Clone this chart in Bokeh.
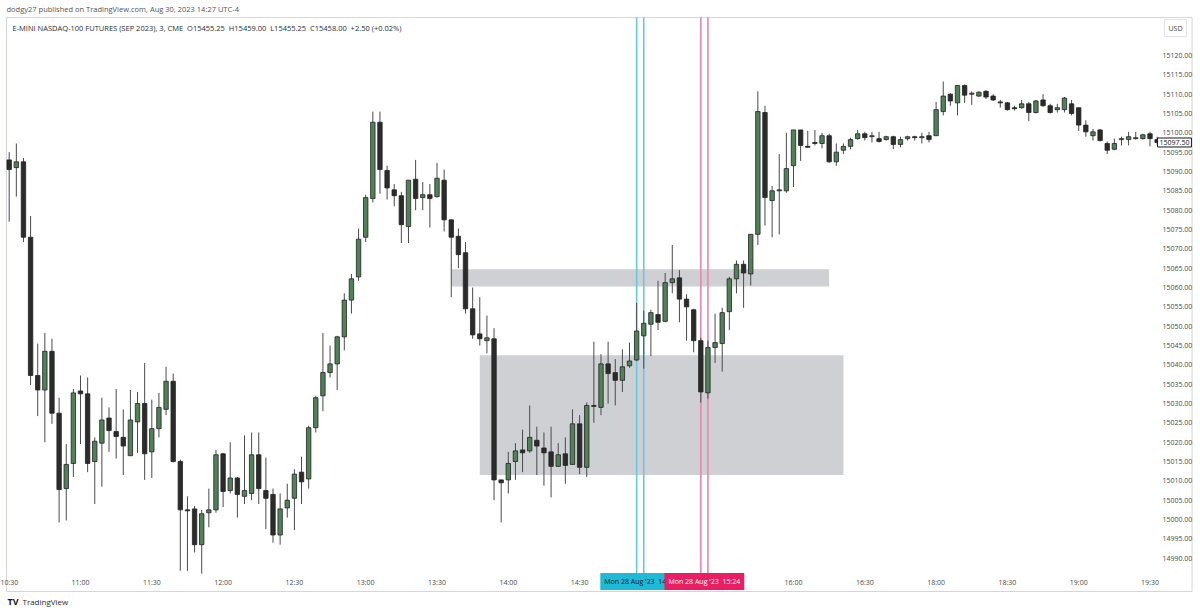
from bokeh.plotting import figure
from bokeh.models import (Range1d, FixedTicker, NumeralTickFormatter, Label, ColumnDataSource)
from bokeh.embed import file_html
from bokeh.resources import INLINE

# ---------------- data (3-minute bars, E-mini Nasdaq-100, Mon 28 Aug '23) ----------------
opens = [15093, 15091, 15092.5, 15073, 15037.25, 15033.5, 15043.5, 15027.5, 15008, 15014.5,
         15033.25, 15032.5, 15015, 15019.75, 15026.25, 15022.75, 15021.25, 15016.5, 15025.25, 15030,
         15017.5, 15023.5, 15028.5, 15035.75, 15015, 15002.5, 15002.75, 14993.5, 15001.75, 15002.5,
         15017, 15007.5, 15010.75, 15006, 15006.75, 15016.75, 15007.5, 15006.5, 14996, 15003,
         15005.5, 15012.25, 15010.5, 15023.75, 15032, 15038, 15040.25, 15047.25, 15056.75, 15062.75,
         15073, 15083, 15102.75, 15090.25, 15085.25, 15083.75, 15075.75, 15088, 15083.25, 15084,
         15083.5, 15087.75, 15077.5, 15073.25, 15069, 15054.5, 15048, 15046.25, 15046.75, 15010.25,
         15010.25, 15015, 15018, 15017.75, 15020.5, 15018.5, 15017.5, 15013.75, 15017, 15014.25,
         15024.75, 15013.5, 15029.5, 15029, 15040.25, 15038, 15036, 15039.75, 15041.25, 15047.5,
         15050.5, 15053, 15051.25, 15061.25, 15062.5, 15057, 15054.25, 15046.25, 15032.75, 15044.5,
         15045.5, 15053.75, 15062.25, 15066, 15063.5, 15073.75, 15105.25, 15082.5, 15085, 15085,
         15091.5, 15100.75, 15096.5, 15097.5, 15097.25, 15099.25, 15092.5, 15095.5, 15096.5, 15098.5,
         15099.75, 15099, 15098.5, 15098.25, 15099, 15097, 15098.5, 15099, 15098.75, 15099.25,
         15099.25, 15105.5, 15110, 15107.75, 15112.25, 15110, 15109.5, 15110.75, 15109.5, 15108,
         15107.75, 15106.5, 15106.5, 15107.5, 15105.25, 15108.5, 15107, 15106, 15106, 15107.5,
         15106.5, 15102, 15099.25, 15100.75, 15097.25, 15095.75, 15098.25, 15098.25, 15098.5, 15098.5,
         15099.75, 15098.25]
highs = [15095, 15097.25, 15093.5, 15078.5, 15045.5, 15048.25, 15046.75, 15031.5, 15019.5, 15033.75,
         15037.25, 15036.75, 15021.25, 15031.5, 15029, 15033.75, 15028.5, 15033.5, 15033, 15040.5,
         15031, 15032.75, 15039.5, 15037.75, 15015.5, 15006, 15003.5, 15002.5, 15008, 15018,
         15017.25, 15020, 15011, 15021.75, 15022.5, 15022.5, 15016, 15008, 15006.75, 15009.25,
         15013, 15016.25, 15024.25, 15032, 15048.25, 15045, 15047.5, 15058.5, 15063.5, 15075.25,
         15084, 15105.5, 15105.5, 15091.5, 15086.75, 15084.75, 15087.75, 15093, 15087.25, 15086.75,
         15092.25, 15090.5, 15077.5, 15075.25, 15071.75, 15060, 15057.5, 15052.75, 15049.5, 15010.25,
         15017.5, 15019.75, 15023.25, 15029.5, 15024, 15022.5, 15024, 15019.75, 15021.25, 15028.5,
         15027, 15030.25, 15046, 15042.75, 15046, 15041.5, 15044, 15045.75, 15056, 15054,
         15054.25, 15061.75, 15063.75, 15071, 15064.5, 15058.25, 15054.5, 15047, 15046.25, 15053.25,
         15054.75, 15062.75, 15067, 15067, 15073.75, 15110.75, 15107, 15086.25, 15094.5, 15100,
         15100.75, 15100.75, 15100.5, 15100.75, 15100, 15099.75, 15097.25, 15097.25, 15098.75, 15100.75,
         15100.25, 15100.25, 15100.25, 15099.25, 15099.25, 15099, 15099.25, 15099.25, 15100, 15100.25,
         15108, 15113.25, 15110.25, 15112.25, 15112.5, 15110.75, 15110.75, 15111, 15110, 15108.5,
         15108, 15107, 15108.5, 15108, 15108.5, 15110, 15107.5, 15107.5, 15109.25, 15108.5,
         15106.5, 15103.25, 15101, 15101, 15097.75, 15098.5, 15099, 15100.25, 15100.25, 15099.75,
         15100.25, 15099]
lows = [15077, 15083.5, 15071.75, 15034.75, 15026.75, 15020, 15024.75, 14999.25, 14999.75, 15011,
        15019.5, 15012.25, 15004, 15008.5, 15017.5, 15015.75, 15011.5, 15016.5, 15017.25, 15010.25,
        15010.75, 15021.25, 15027, 15014.75, 14986.75, 14986.75, 14991.5, 14986, 14998, 15001.75,
        15003.25, 15006.75, 15000.5, 15004, 15005, 15004, 14997.5, 14994, 14993.5, 15000.5,
        14997.25, 15004, 15008, 15022.5, 15028, 15036.75, 15033.5, 15043.75, 15053.25, 15061.75,
        15071.75, 15082, 15084.25, 15082.75, 15081, 15071.5, 15071.5, 15080, 15080, 15075.5,
        15083.25, 15074.5, 15057.5, 15065, 15053.25, 15046.75, 15045, 15043, 15005, 14999.25,
        15006.75, 15010.25, 15012.25, 15017.25, 15011.5, 15008.75, 15005.75, 15013.75, 15009.25, 15014.25,
        15011.75, 15011, 15025, 15027, 15030, 15029.5, 15033, 15039.25, 15041, 15039,
        15042.25, 15049, 15051, 15058.5, 15051, 15046.25, 15043.25, 15030.25, 15031.25, 15040.5,
        15038.25, 15049, 15058.5, 15054.75, 15060.5, 15071, 15076, 15073, 15073.75, 15084.5,
        15086, 15092.75, 15096.25, 15096.75, 15096, 15092.25, 15091.5, 15094.5, 15095.75, 15098.25,
        15098, 15097.5, 15097.5, 15098, 15095.75, 15096.25, 15098, 15098, 15097.25, 15097.5,
        15099.25, 15104.5, 15107, 15104.5, 15107.75, 15107.25, 15109.25, 15108.75, 15108.25, 15106.5,
        15105.75, 15105.75, 15106.25, 15103, 15105, 15106.75, 15105, 15105.25, 15105.25, 15104.5,
        15100.5, 15099, 15098, 15097.75, 15094.5, 15095.5, 15096.75, 15096.75, 15098.25, 15098.25,
        15096.5, 15097]
closes = [15090.5, 15092.5, 15073, 15037.25, 15033.5, 15043.5, 15027.5, 15007.75, 15014.25, 15032.75,
          15032.5, 15014.5, 15020.25, 15025.75, 15023, 15021.5, 15019, 15025.75, 15030, 15017,
          15023.5, 15029, 15035.75, 15015, 15002.5, 15002.25, 14993.5, 15001.5, 15002.5, 15016.75,
          15007.25, 15010.75, 15006.5, 15007.5, 15016.75, 15008, 15005.5, 14996, 15002.75, 15005,
          15011.75, 15009.75, 15023.75, 15031.5, 15038, 15040.25, 15047.25, 15056.75, 15062.25, 15072.5,
          15083.25, 15102.75, 15090.5, 15085.75, 15083.75, 15076.25, 15087.75, 15083, 15084, 15083,
          15088.25, 15077.5, 15073, 15068.5, 15054.5, 15047.75, 15046.75, 15047, 15010.25, 15009.5,
          15014.5, 15017.75, 15017.25, 15021.25, 15019, 15017.25, 15013.75, 15016.75, 15014, 15024.75,
          15013.5, 15029.5, 15029.25, 15040.25, 15037.75, 15036, 15039.5, 15041, 15048.75, 15050.75,
          15053.5, 15051, 15061.25, 15062.25, 15057, 15055, 15046.25, 15033, 15044.5, 15045.75,
          15053.5, 15062.25, 15066, 15063.75, 15073.75, 15105.5, 15083.25, 15085, 15085.25, 15090.75,
          15100.75, 15096.75, 15096.25, 15097.25, 15099.25, 15092.5, 15095, 15096.5, 15098.25, 15099.75,
          15098.75, 15099.25, 15097.75, 15099, 15097, 15098.25, 15099, 15098.75, 15099, 15098.25,
          15106, 15109.5, 15108.25, 15112.25, 15109.75, 15110.25, 15110.5, 15109.25, 15108.5, 15107.75,
          15106, 15106.25, 15107.5, 15105.25, 15108.25, 15107, 15105.25, 15106.5, 15109, 15105,
          15102, 15100.25, 15100.25, 15098, 15095.5, 15097.25, 15098.5, 15099, 15098.75, 15099.5,
          15098.5, 15097.5]

session_starts = ["10:30", "18:00"]     # CME pause 17:00-18:00
session_bar_counts = [130, 32]
bar_minutes = 3

tick_labels = ["10:30", "11:00", "11:30", "12:00", "12:30", "13:00", "13:30", "14:00", "14:30",
               "15:00", "15:30", "16:00", "16:30", "18:00", "18:30", "19:00", "19:30"]
price_ticks = [14990, 14995, 15000, 15005, 15010, 15015, 15020, 15025, 15030, 15035, 15040,
               15045, 15050, 15055, 15060, 15065, 15070, 15075, 15080, 15085, 15090, 15095,
               15100, 15105, 15110, 15115, 15120]

# rectangles drawn on the chart: (start time, end time, top price, bottom price)
zone_starts = ["13:36", "13:48"]
zone_ends = ["16:15", "16:21"]
zone_tops = [15064.75, 15042.5]
zone_bottoms = [15060.25, 15011.5]

blue_line_times = ["14:54", "14:57"]
pink_line_times = ["15:21", "15:24"]
date_text = "Mon 28 Aug '23"

last_price = 15097.5
header_text = "dodgy27 published on TradingView.com, Aug 30, 2023 14:27 UTC-4"
NB2 = "\u00a0\u00a0"
symbol_text = ("E-MINI NASDAQ-100 FUTURES (SEP 2023), 3, CME" + NB2 + "O15455.25" + NB2 +
               "H15459.00" + NB2 + "L15455.25" + NB2 + "C15458.00" + NB2 + "+2.50 (+0.02%)")

# ---------------- derived ----------------
def hm(s):
    h, m = s.split(":")
    return int(h) * 60 + int(m)

def fmt(t):
    return f"{t // 60}:{t % 60:02d}"

times = []
for s, n in zip(session_starts, session_bar_counts):
    t0 = hm(s)
    times += [fmt(t0 + bar_minutes * k) for k in range(n)]
pos = {t: i for i, t in enumerate(times)}
idx = list(range(len(opens)))

up = [c >= o for o, c in zip(opens, closes)]
src = ColumnDataSource(dict(x=idx, hi=highs, lo=lows,
                            top=[max(o, c) for o, c in zip(opens, closes)],
                            bot=[min(o, c) for o, c in zip(opens, closes)],
                            fill=["#4f8257" if u else "#2b2b2b" for u in up]))

# ---------------- layout constants ----------------
W, H = 1200, 612
FONT = "Open Sans"
TXT = "#4a4a4a"
PANE_TOP, PANE_BOTTOM = 15129.8, 14985.3      # price at the top / bottom of the chart pane
X0, X1 = -1.22, 166.1                          # visible bar-index span
Y0, Y1 = 14975.96, 15134.22                    # visible price span

p = figure(width=W, height=H, output_backend="svg", toolbar_location=None,
           y_axis_location="right",
           x_range=Range1d(X0, X1), y_range=Range1d(Y0, Y1),
           min_border_left=0, min_border_right=7, min_border_top=0, min_border_bottom=0)
p.outline_line_color = None
p.grid.visible = False
p.background_fill_color = "white"
p.border_fill_color = "white"

# widget border around chart pane + scales
p.quad(left=[-0.38], right=[165.9], top=[PANE_TOP], bottom=[14981.4],
       fill_color=None, line_color="#d2d5dd", line_width=1)

# zones
p.quad(left=[pos[s] for s in zone_starts], right=[pos[e] for e in zone_ends],
       top=zone_tops, bottom=zone_bottoms, fill_color="#cfd0d4", line_color=None)

# vertical marker lines
p.segment(x0=[pos[t] for t in blue_line_times], x1=[pos[t] for t in blue_line_times],
          y0=PANE_BOTTOM, y1=PANE_TOP, line_color="#66c8e2", line_width=1.6)
p.segment(x0=[pos[t] for t in pink_line_times], x1=[pos[t] for t in pink_line_times],
          y0=PANE_BOTTOM, y1=PANE_TOP, line_color="#ea86a9", line_width=1.6)

# candles
p.segment(x0="x", y0="lo", x1="x", y1="hi", source=src, line_color="#4a4a4a", line_width=1)
p.vbar(x="x", width=0.62, top="top", bottom="bot", source=src,
       fill_color="fill", line_color="#232323", line_width=0.8)

# axes (labels pulled inside the widget area)
xa = p.xaxis[0]
xa.ticker = FixedTicker(ticks=[pos[t] for t in tick_labels])
xa.major_label_overrides = {pos[t]: t for t in tick_labels}
ya = p.yaxis[0]
ya.ticker = FixedTicker(ticks=price_ticks)
ya.formatter = NumeralTickFormatter(format="0.00")
for ax in (xa, ya):
    ax.axis_line_color = None
    ax.major_tick_line_color = None
    ax.minor_tick_line_color = None
    ax.major_tick_out = 0
    ax.major_tick_in = 0
    ax.minor_tick_out = 0
    ax.minor_tick_in = 0
    ax.major_label_text_font = FONT
    ax.major_label_text_font_size = "7px"
    ax.major_label_text_color = TXT
xa.major_label_standoff = -35
ya.major_label_standoff = -31

# texts
p.add_layout(Label(x=6, y=H - 8, x_units="screen", y_units="screen", text=header_text,
                   text_font=FONT, text_font_size="7.5px", text_color="#555555",
                   text_baseline="middle"))
p.add_layout(Label(x=12, y=H - 27, x_units="screen", y_units="screen", text=symbol_text,
                   text_font=FONT, text_font_size="7.5px", text_color="#2a2e39",
                   text_baseline="middle"))
p.add_layout(Label(x=1175, y=H - 27.5, x_units="screen", y_units="screen", text="USD",
                   text_font=FONT, text_font_size="7px", text_color=TXT,
                   text_align="center", text_baseline="middle",
                   border_line_color="#e0e3eb", background_fill_color="white", padding=4))
p.add_layout(Label(x=1174, y=last_price, x_units="screen", y_units="data",
                   text=f"{last_price:.2f}", text_font=FONT, text_font_size="7px",
                   text_color="#131722", text_align="center", text_baseline="middle",
                   border_line_color="#131722", background_fill_color="white", padding=2))

blue_mid = sum(pos[t] for t in blue_line_times) / len(blue_line_times)
pink_mid = sum(pos[t] for t in pink_line_times) / len(pink_line_times)
p.add_layout(Label(x=blue_mid, y=H - 581, y_units="screen",
                   text=f"{date_text}{NB2}{blue_line_times[-1]}", text_font=FONT,
                   text_font_size="7px", text_color="#131722", text_align="center",
                   text_baseline="middle", background_fill_color="#1fbad6", padding=4))
p.add_layout(Label(x=pink_mid, y=H - 581, y_units="screen",
                   text=f"{date_text}{NB2}{pink_line_times[-1]}", text_font=FONT,
                   text_font_size="7px", text_color="white", text_align="center",
                   text_baseline="middle", background_fill_color="#e91e63", padding=4))

p.add_layout(Label(x=7, y=H - 601, x_units="screen", y_units="screen", text="TV",
                   text_font=FONT, text_font_size="9px", text_font_style="bold",
                   text_color="#131722", text_baseline="middle"))
p.add_layout(Label(x=22, y=H - 601, x_units="screen", y_units="screen", text="TradingView",
                   text_font=FONT, text_font_size="8px", text_color="#2a2e39",
                   text_baseline="middle"))

open("out.html", "w").write(file_html(p, INLINE))
